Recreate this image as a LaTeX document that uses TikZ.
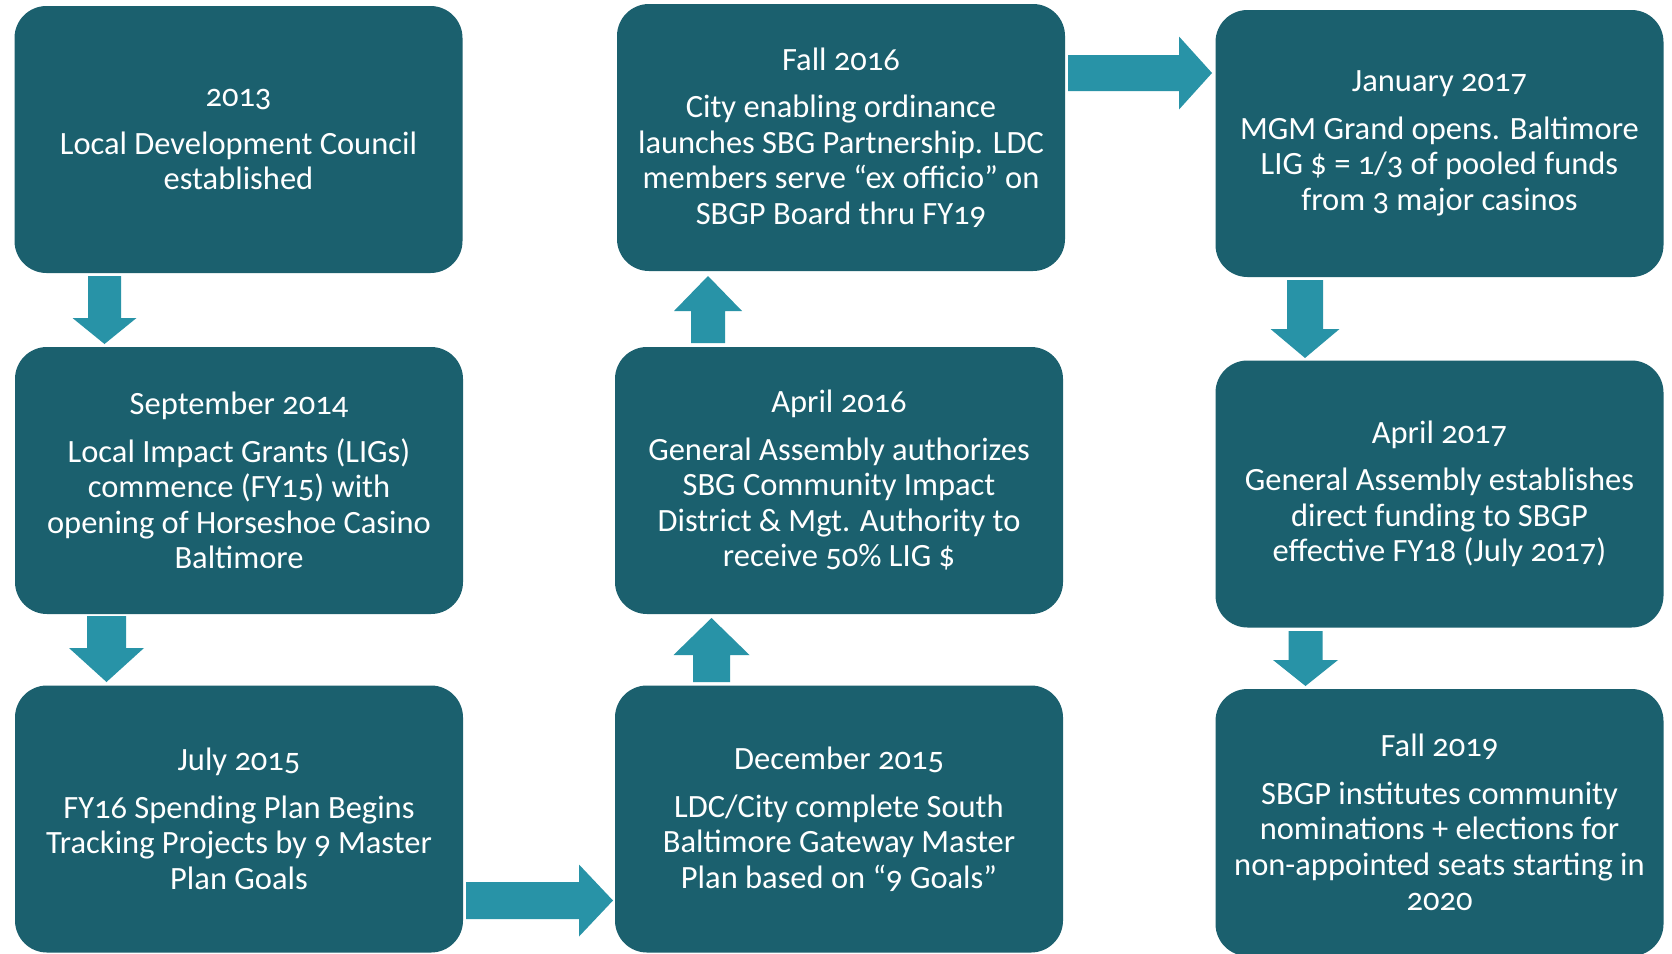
\documentclass[tikz,border=0pt]{standalone}
\usepackage{fontspec}
\setmainfont{Carlito}[Numbers=OldStyle]
\definecolor{boxc}{RGB}{27,96,110}
\definecolor{arrc}{RGB}{40,147,167}
\newcommand\arrdown[6]{% x, shaft half, head half, y top, y base, y tip
  \fill[arrc] (#1-#2,#4) -- (#1+#2,#4) -- (#1+#2,#5) -- (#1+#3,#5) -- (#1,#6) -- (#1-#3,#5) -- (#1-#2,#5) -- cycle;}
\newcommand\arrup[6]{% x, shaft half, head half, y bottom, y base, y tip
  \fill[arrc] (#1-#2,#4) -- (#1+#2,#4) -- (#1+#2,#5) -- (#1+#3,#5) -- (#1,#6) -- (#1-#3,#5) -- (#1-#2,#5) -- cycle;}
\newcommand\arrright[6]{% y, shaft half, head half, x left, x base, x tip
  \fill[arrc] (#4,#1-#2) -- (#4,#1+#2) -- (#5,#1+#2) -- (#5,#1+#3) -- (#6,#1) -- (#5,#1-#3) -- (#5,#1-#2) -- cycle;}
\begin{document}
\begin{tikzpicture}[x=1pt,y=-1pt,
  tbox/.style={fill=boxc, rounded corners=32pt, minimum width=448pt, minimum height=267pt,
    inner sep=0pt, text=white, align=center, font=\fontsize{32.5}{35.5}\selectfont},
  ]
\useasboundingbox (0,0) rectangle (1672,953);
\fill[white] (0,0) rectangle (1672,953);
\node[tbox] (a) at (238.5,139.5) {2013\\[12pt]Local Development Council\\established};
\node[tbox] (b) at (239,480.5) {September 2014\\[12pt]Local Impact Grants (LIGs)\\commence (FY15) with\\opening of Horseshoe Casino\\Baltimore};
\node[tbox] (c) at (239,819) {July 2015\\[12pt]FY16 Spending Plan Begins\\Tracking Projects by 9 Master\\Plan Goals};
\node[tbox] (f) at (839,819) {December 2015\\[12pt]LDC/City complete South\\Baltimore Gateway Master\\Plan based on “9 Goals”};
\node[tbox] (e) at (839,480.5) {April 2016\\[12pt]General Assembly authorizes\\SBG Community Impact\\District \& Mgt. Authority to\\receive 50\% LIG \$};
\node[tbox] (d) at (841,137.5) {Fall 2016\\[12pt]City enabling ordinance\\launches SBG Partnership. LDC\\members serve “ex officio” on\\SBGP Board thru FY19};
\node[tbox] (g) at (1439.5,143.5) {January 2017\\[12pt]MGM Grand opens. Baltimore\\LIG \$ = 1/3 of pooled funds\\from 3 major casinos};
\node[tbox] (h) at (1439.5,494) {April 2017\\[12pt]General Assembly establishes\\direct funding to SBGP\\effective FY18 (July 2017)};
\node[tbox] (i) at (1439.5,822.5) {Fall 2019\\[12pt]SBGP institutes community\\nominations + elections for\\non-appointed seats starting in\\2020};
% connectors a->b->c->f->e->d->g->h->i
\arrdown{104.5}{16.5}{32}{276}{318}{344}
\arrdown{106.5}{19.5}{37.5}{616}{648}{682}
\arrright{900.5}{18.5}{36}{466}{579}{613}
\arrup{711.5}{18.5}{38}{682}{655}{618}
\arrup{708}{17}{34}{343}{311}{276}
\arrright{73}{18}{36.5}{1068}{1179}{1212}
\arrdown{1305}{18}{34.5}{280}{329}{358}
\arrdown{1305.5}{17}{32.5}{631}{660}{686}
\end{tikzpicture}
\end{document}
